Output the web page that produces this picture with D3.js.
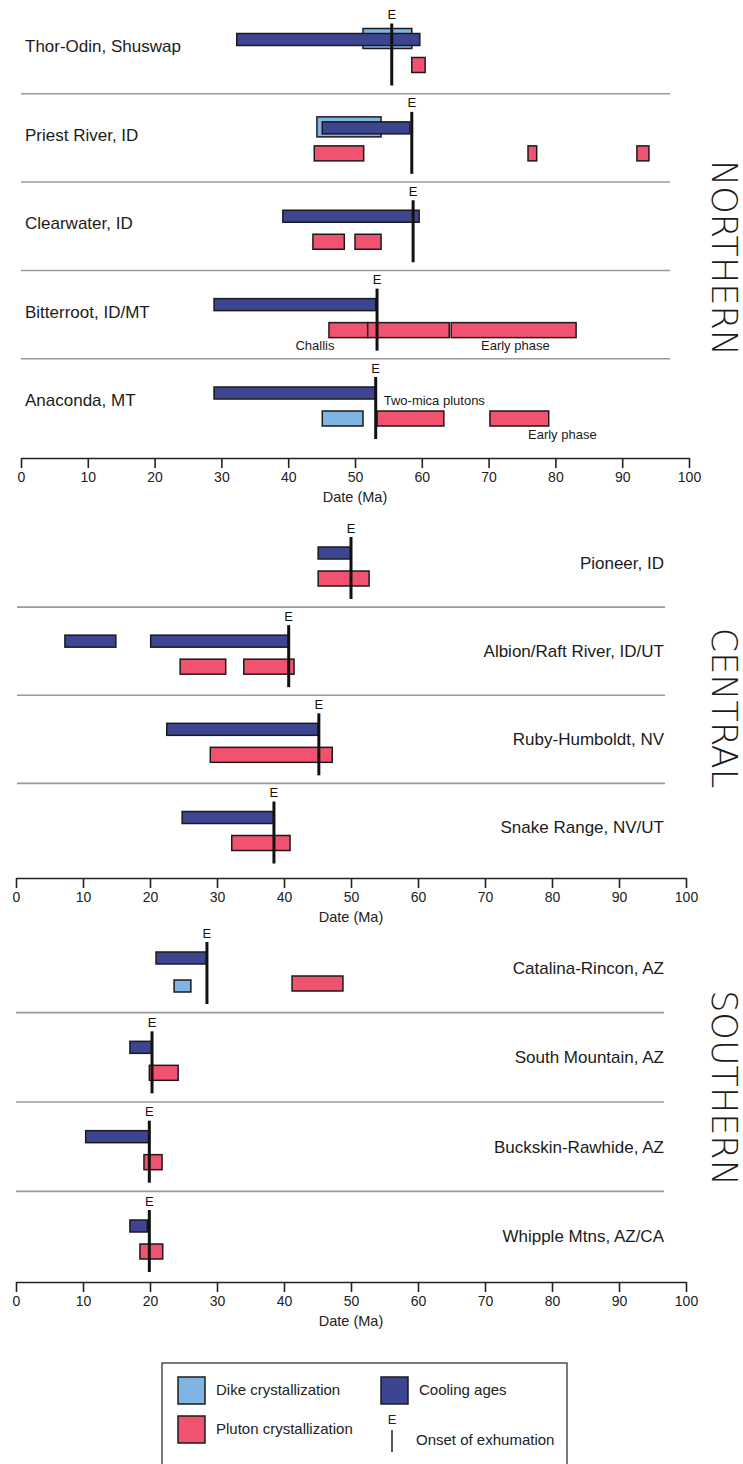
<!DOCTYPE html>
<html>
<head>
<meta charset="utf-8">
<script src="https://cdn.jsdelivr.net/npm/d3@7"></script>
<style>
  html, body { margin: 0; padding: 0; background: #fff; }
  svg { display: block; font-family: "Liberation Sans", Arial, sans-serif; }
</style>
</head>
<body>
<svg id="chart" width="743" height="1464"></svg>
<script>
// ---------------- DATA ----------------
const regions = ["NORTHERN", "CENTRAL", "SOUTHERN"];
const siteNames = [
  "Thor-Odin, Shuswap", "Priest River, ID", "Clearwater, ID", "Bitterroot, ID/MT", "Anaconda, MT",
  "Pioneer, ID", "Albion/Raft River, ID/UT", "Ruby-Humboldt, NV", "Snake Range, NV/UT",
  "Catalina-Rincon, AZ", "South Mountain, AZ", "Buckskin-Rawhide, AZ", "Whipple Mtns, AZ/CA"
];
const siteRegion = [0, 0, 0, 0, 0, 1, 1, 1, 1, 2, 2, 2, 2];
// onset of exhumation (Ma)
const exhumationOnset = [55.5, 58.5, 58.7, 53.3, 53.1, 50.0, 40.7, 45.2, 38.5, 28.5, 20.3, 19.9, 19.9];
// [site index, start Ma, end Ma]
const coolingAges = [
  [0, 32.3, 59.7], [1, 45.1, 58.2], [2, 39.2, 59.6], [3, 28.9, 53.1], [4, 28.9, 53.1],
  [5, 45.1, 50.0], [6, 7.3, 14.9], [6, 20.1, 40.7], [7, 22.5, 45.1], [8, 24.8, 38.5],
  [9, 20.9, 28.5], [10, 17.0, 20.3], [11, 10.4, 19.9], [12, 17.0, 19.6]
];
// [site index, start Ma, end Ma, lane]
const dikeAges = [
  [0, 51.2, 58.5, "enclose"], [1, 44.3, 53.9, "enclose"], [4, 45.1, 51.2, "lower"], [9, 23.6, 26.1, "lowerSmall"]
];
const plutonAges = [
  [0, 58.5, 60.5], [1, 43.9, 51.3], [1, 75.9, 77.2], [1, 92.2, 94.0],
  [2, 43.7, 48.4], [2, 50.0, 53.9],
  [3, 46.1, 51.9], [3, 51.9, 64.1], [3, 64.4, 83.1],
  [4, 53.3, 63.3], [4, 70.2, 79.0],
  [5, 45.1, 52.7], [6, 24.5, 31.3], [6, 34.0, 41.5], [7, 29.0, 47.2], [8, 32.2, 40.9],
  [9, 41.2, 48.8], [10, 19.9, 24.2], [11, 19.1, 21.8], [12, 18.5, 21.9]
];
// [site index, text, Ma, anchor, placement]
const annotations = [
  [3, "Challis", 44.0, "middle", "below"],
  [3, "Early phase", 74.0, "middle", "below"],
  [4, "Two-mica plutons", 54.3, "start", "middle"],
  [4, "Early phase", 75.9, "start", "below"]
];
const tickValues = [0, 10, 20, 30, 40, 50, 60, 70, 80, 90, 100];
const axisTitle = "Date (Ma)";
const legendItems = [
  ["Dike crystallization", "dike"], ["Cooling ages", "cooling"],
  ["Pluton crystallization", "pluton"], ["Onset of exhumation", "exhumation"]
];

// ---------------- STYLE / LAYOUT ----------------
const colors = { cooling: "#3d4490", dike: "#80b4e2", pluton: "#f0526f" };
const stroke = "#1b1b1b";
const panelLayout = [
  { x: [21, 689], axisY: 458, rows: [54.5, 408], sep: [21, 670], labelAnchor: "start", labelX: 25, regionY: 258 },
  { x: [16, 686], axisY: 878, rows: [568, 832.5], sep: [17, 665], labelAnchor: "end", labelX: 664, regionY: 708 },
  { x: [16, 686], axisY: 1282, rows: [973, 1241], sep: [16, 664], labelAnchor: "end", labelX: 664, regionY: 1088 }
];
const lanes = {
  upper: [-21, 12], lower: [3, 15], enclose: [-26, 20], lowerSmall: [7, 12]
};

const svg = d3.select("#chart");
svg.append("rect").attr("width", 743).attr("height", 1464).attr("fill", "#fff");

const xScales = panelLayout.map(p => d3.scaleLinear().domain([0, 100]).range(p.x));
const rowScales = panelLayout.map((p, i) => {
  const sites = siteNames.map((n, k) => k).filter(k => siteRegion[k] === i);
  return d3.scalePoint().domain(sites).range(p.rows);
});
const xOf = s => xScales[siteRegion[s]];
const yOf = s => rowScales[siteRegion[s]](s);

panelLayout.forEach((p, i) => {
  const g = svg.append("g");
  const rows = rowScales[i].domain();
  const step = rowScales[i].step();
  // separators
  rows.slice(0, -1).forEach(s => {
    const y = rowScales[i](s) + step / 2 - 5;
    g.append("line").attr("x1", p.sep[0]).attr("x2", p.sep[1]).attr("y1", y).attr("y2", y)
      .attr("stroke", "#9a9a9a").attr("stroke-width", 1.6);
  });
  // axis
  const axis = d3.axisBottom(xScales[i]).tickValues(tickValues).tickSize(10).tickSizeOuter(0).tickPadding(4);
  const ax = g.append("g").attr("transform", `translate(0,${p.axisY})`).call(axis);
  ax.select(".domain").attr("stroke", "#222").attr("stroke-width", 1.6);
  ax.selectAll(".tick line").attr("stroke", "#222").attr("stroke-width", 1.6);
  ax.selectAll(".tick text").attr("font-size", 14).attr("fill", "#222")
    .attr("font-family", "Liberation Sans, Arial, sans-serif");
  g.append("text").attr("x", (p.x[0] + p.x[1]) / 2).attr("y", p.axisY + 44)
    .attr("text-anchor", "middle").attr("font-size", 14.5).attr("fill", "#222").text(axisTitle);
  // region label
  g.append("text").attr("transform", `translate(712,${p.regionY}) rotate(90)`)
    .attr("text-anchor", "middle").attr("font-family", "DejaVu Sans, sans-serif")
    .attr("font-weight", 300).attr("font-size", 35).attr("fill", "#1b1b1b").text(regions[i]);
  // site labels
  rows.forEach(s => {
    g.append("text").attr("x", p.labelX).attr("y", yOf(s) + (i === 0 ? -8 : -5))
      .attr("dy", "0.35em").attr("text-anchor", p.labelAnchor)
      .attr("font-size", 17).attr("fill", "#1b1b1b").text(siteNames[s]);
  });
});

function drawBars(data, type, laneFn) {
  svg.append("g").selectAll("rect").data(data).join("rect")
    .attr("x", d => xOf(d[0])(d[1]))
    .attr("width", d => xOf(d[0])(d[2]) - xOf(d[0])(d[1]))
    .attr("y", d => yOf(d[0]) + lanes[laneFn(d)][0])
    .attr("height", d => lanes[laneFn(d)][1])
    .attr("fill", colors[type]).attr("stroke", stroke).attr("stroke-width", 1.5);
}
drawBars(dikeAges, "dike", d => d[3]);
drawBars(plutonAges, "pluton", () => "lower");
drawBars(coolingAges, "cooling", () => "upper");

// exhumation lines
const eg = svg.append("g");
exhumationOnset.forEach((v, s) => {
  const x = xOf(s)(v), c = yOf(s);
  eg.append("line").attr("x1", x).attr("x2", x).attr("y1", c - 31).attr("y2", c + 31)
    .attr("stroke", "#111").attr("stroke-width", 3);
  eg.append("text").attr("x", x).attr("y", c - 40).attr("dy", "0.35em").attr("text-anchor", "middle")
    .attr("font-size", 13).attr("fill", "#111").text("E");
});

// annotations
annotations.forEach(a => {
  const c = yOf(a[0]);
  svg.append("text").attr("x", xOf(a[0])(a[2])).attr("y", a[4] === "below" ? c + 26 : c - 8)
    .attr("dy", "0.35em").attr("text-anchor", a[3]).attr("font-size", 13).attr("fill", "#1b1b1b").text(a[1]);
});

// legend
const lg = svg.append("g");
lg.append("rect").attr("x", 162).attr("y", 1363).attr("width", 405).attr("height", 120)
  .attr("fill", "#fff").attr("stroke", "#333").attr("stroke-width", 1.3);
const legendPos = [[178, 1377], [381, 1377], [178, 1416], [381, 1416]];
legendItems.forEach((it, k) => {
  const [lx, ly] = legendPos[k];
  if (it[1] === "exhumation") {
    lg.append("text").attr("x", lx + 11).attr("y", ly + 3).attr("dy", "0.35em").attr("text-anchor", "middle")
      .attr("font-size", 13).attr("fill", "#222").text("E");
    lg.append("line").attr("x1", lx + 11).attr("x2", lx + 11).attr("y1", ly + 14).attr("y2", ly + 36)
      .attr("stroke", "#222").attr("stroke-width", 1.5);
    lg.append("text").attr("x", lx + 35).attr("y", ly + 24).attr("dy", "0.35em")
      .attr("font-size", 15).attr("fill", "#222").text(it[0]);
  } else {
    lg.append("rect").attr("x", lx).attr("y", ly).attr("width", 27).attr("height", 27)
      .attr("fill", colors[it[1]]).attr("stroke", stroke).attr("stroke-width", 1.5);
    lg.append("text").attr("x", lx + 38).attr("y", ly + 13).attr("dy", "0.35em")
      .attr("font-size", 15).attr("fill", "#222").text(it[0]);
  }
});
</script>
</body>
</html>
